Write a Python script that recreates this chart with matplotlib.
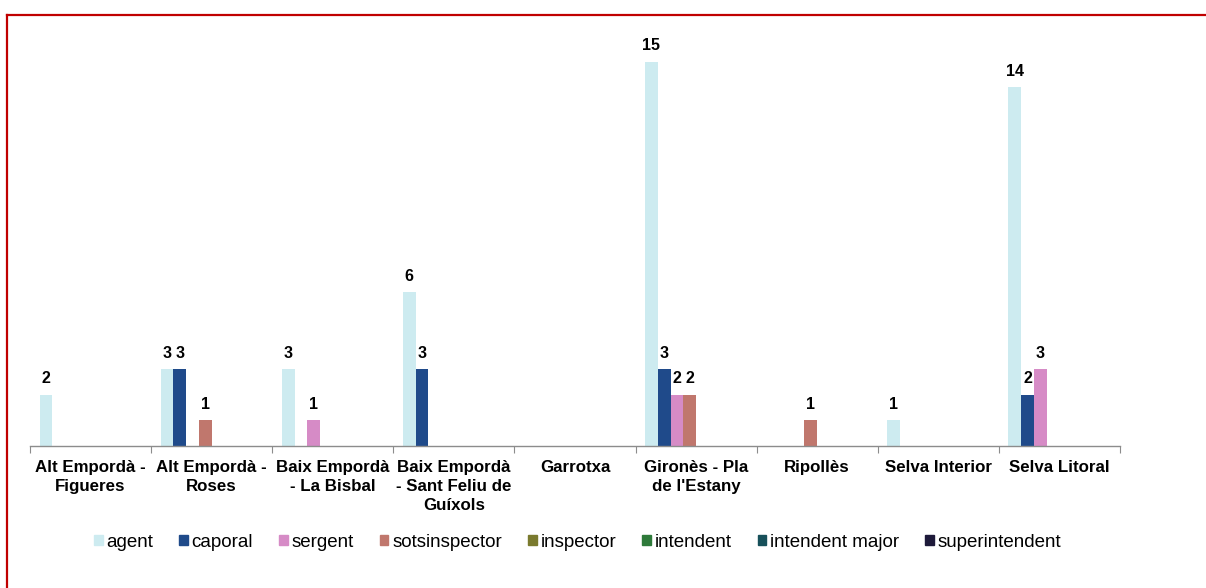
import matplotlib
matplotlib.use("Agg")
import matplotlib.pyplot as plt
from matplotlib.lines import Line2D
import numpy as np

plt.rcParams['font.family'] = ['Liberation Sans', 'DejaVu Sans']

categories = [
    "Alt Empordà -\nFigueres",
    "Alt Empordà -\nRoses",
    "Baix Empordà\n- La Bisbal",
    "Baix Empordà\n- Sant Feliu de\nGuíxols",
    "Garrotxa",
    "Gironès - Pla\nde l'Estany",
    "Ripollès",
    "Selva Interior",
    "Selva Litoral",
]

series_names = ["agent", "caporal", "sergent", "sotsinspector", "inspector",
                "intendent", "intendent major", "superintendent"]

agent = [2, 3, 3, 6, 0, 15, 0, 1, 14]
caporal = [0, 3, 0, 3, 0, 3, 0, 0, 2]
sergent = [0, 0, 1, 0, 0, 2, 0, 0, 3]
sotsinspector = [0, 1, 0, 0, 0, 2, 1, 0, 0]
inspector = [0, 0, 0, 0, 0, 0, 0, 0, 0]
intendent = [0, 0, 0, 0, 0, 0, 0, 0, 0]
intendent_major = [0, 0, 0, 0, 0, 0, 0, 0, 0]
superintendent = [0, 0, 0, 0, 0, 0, 0, 0, 0]

series_values = [agent, caporal, sergent, sotsinspector, inspector,
                 intendent, intendent_major, superintendent]

colors = ["#CDEBF0", "#1F4A8A", "#D68BC6", "#C0776D", "#7A7A2E",
          "#2E7A3A", "#17505A", "#1E1A3A"]

fig = plt.figure(figsize=(12.06, 5.88), dpi=100)
W, H = 1206, 588
ax = fig.add_axes([30 / W, (H - 446) / H, (1120 - 30) / W, (446 - 36) / H])

n_series = len(series_names)
slots = n_series + 1.5
bw = 1.0 / slots
x0 = np.arange(len(categories))

for j, (name, vals, c) in enumerate(zip(series_names, series_values, colors)):
    xs = x0 + (0.75 + j) / slots
    ax.bar(xs, vals, width=bw, align='edge', color=c, label=name, linewidth=0)
    for xb, v in zip(xs, vals):
        if v:
            ax.annotate(str(v), (xb + bw / 2, v), xytext=(0, 6),
                        textcoords='offset points', ha='center', va='bottom',
                        fontsize=11.5, fontweight='bold', color='black')

ax.set_xlim(0, len(categories))
ax.set_ylim(0, 16)
for s in ['top', 'right', 'left']:
    ax.spines[s].set_visible(False)
ax.spines['bottom'].set_color('#8C8C8C')
ax.spines['bottom'].set_linewidth(1.0)
ax.set_yticks([])

ax.set_xticks(np.arange(len(categories) + 1))
ax.set_xticklabels([])
ax.tick_params(axis='x', which='major', length=5, color='#8C8C8C', direction='out')
ax.set_xticks(x0 + 0.5, minor=True)
ax.set_xticklabels(categories, minor=True, fontsize=12.2, fontweight='bold',
                   linespacing=1.35, va='top')
ax.tick_params(axis='x', which='minor', length=0, pad=10)

handles = [plt.Rectangle((0, 0), 1, 1, color=c) for c in colors]
fig.legend(handles, series_names, loc='center', bbox_to_anchor=(0.479, 0.078),
           ncol=8, frameon=False, fontsize=13.5, handlelength=0.45,
           handleheight=0.5, handletextpad=0.2, columnspacing=1.4)

# red frame (top and left edges visible)
fig.add_artist(Line2D([7 / W, 1.0], [1 - 15 / H, 1 - 15 / H],
                      transform=fig.transFigure, color='#C00000', linewidth=1.6))
fig.add_artist(Line2D([7 / W, 7 / W], [0, 1 - 15 / H],
                      transform=fig.transFigure, color='#C00000', linewidth=1.6))

fig.savefig("out.png", dpi=100)
